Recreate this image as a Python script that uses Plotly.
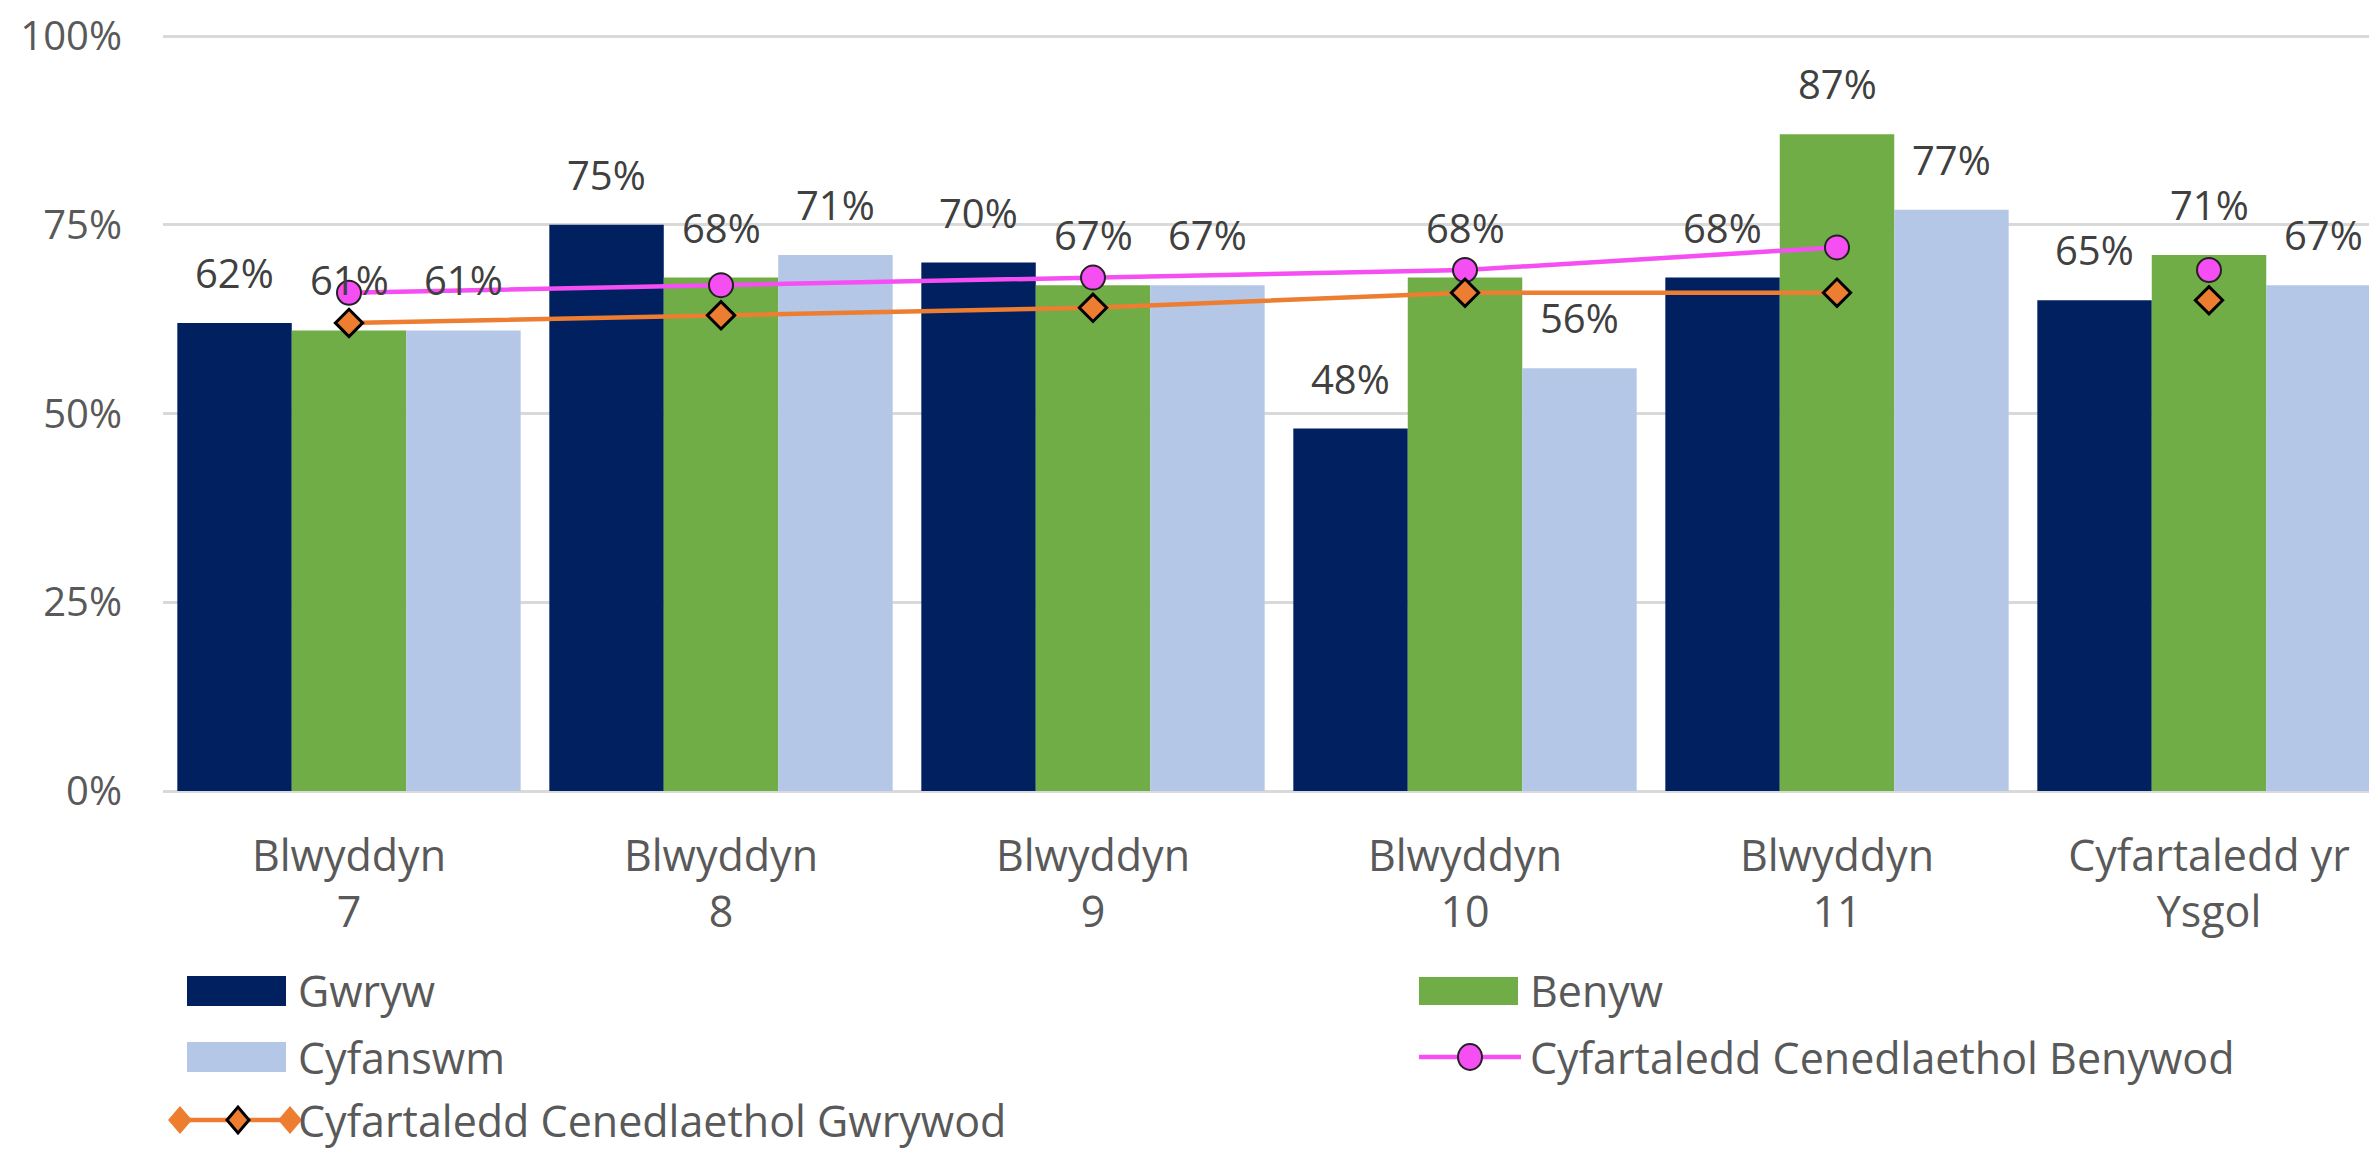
import plotly.graph_objects as go

categories = ["Blwyddyn<br>7", "Blwyddyn<br>8", "Blwyddyn<br>9", "Blwyddyn<br>10",
              "Blwyddyn<br>11", "Cyfartaledd yr<br>Ysgol"]
gwryw = [62, 75, 70, 48, 68, 65]
benyw = [61, 68, 67, 68, 87, 71]
cyfanswm = [61, 71, 67, 56, 77, 67]
nat_benywod = [66, 67, 68, 69, 72, 69]
nat_gwrywod = [62, 63, 64, 66, 66, 65]
y_ticks = [0, 25, 50, 75, 100]
y_ticklabels = ["0%", "25%", "50%", "75%", "100%"]

C_DARK = "#002060"
C_GREEN = "#70AD47"
C_LIGHT = "#B4C7E7"
C_PINK = "#F54EF2"
C_ORANGE = "#ED7D31"
TXT = "#595959"
FONT = "Open Sans"
FS_WORD = 43
FS_NUM = 40

O = 8  # page body margin
UNIT = 755.0  # pixels for 0%..100%
W, H = 2377 - O, 1149 - O
L, R, T = 163 - O, 0, 26
PLOT_BOTTOM = 791 - O
B = H - PLOT_BOTTOM
PW, PH = W - L - R, H - T - B
Y_TOP = PH / UNIT
BARGAP = 0.077
BW = (1 - BARGAP) / 3

def px(x):
    return (x - O - L) / PW

def py(y):
    return (PLOT_BOTTOM - (y - O)) / PH

xs = list(range(len(categories)))
fig = go.Figure()
for name, vals, col in [("Gwryw", gwryw, C_DARK), ("Benyw", benyw, C_GREEN),
                        ("Cyfanswm", cyfanswm, C_LIGHT)]:
    fig.add_trace(go.Bar(name=name, x=xs, y=[v / 100 for v in vals],
                         marker=dict(color=col, line=dict(width=0)), showlegend=False))

n_line = 5
pink_marker = dict(symbol="circle", size=24, color=C_PINK, line=dict(color="#222222", width=2))
orange_marker = dict(symbol="diamond", size=21, color=C_ORANGE, line=dict(color="#000000", width=3))
fig.add_trace(go.Scatter(name="Cyfartaledd Cenedlaethol Benywod", x=xs[:n_line],
                         y=[v / 100 for v in nat_benywod[:n_line]], mode="lines+markers",
                         line=dict(color=C_PINK, width=4.5), marker=pink_marker,
                         showlegend=False))
fig.add_trace(go.Scatter(name="Cyfartaledd Cenedlaethol Gwrywod", x=xs[:n_line],
                         y=[v / 100 for v in nat_gwrywod[:n_line]], mode="lines+markers",
                         line=dict(color=C_ORANGE, width=4.5), marker=orange_marker,
                         showlegend=False))
fig.add_trace(go.Scatter(x=xs[n_line:], y=[v / 100 for v in nat_benywod[n_line:]], mode="markers",
                         marker=pink_marker, showlegend=False))
fig.add_trace(go.Scatter(x=xs[n_line:], y=[v / 100 for v in nat_gwrywod[n_line:]], mode="markers",
                         marker=orange_marker, showlegend=False))

annotations = []
for k, vals in enumerate([gwryw, benyw, cyfanswm]):
    for i, v in enumerate(vals):
        annotations.append(dict(x=i + (k - 1) * BW, y=v / 100, xref="x", yref="y",
                                text=f"{v}%", showarrow=False, yanchor="bottom",
                                yshift=21, font=dict(family=FONT, size=FS_NUM, color="#404040")))

shapes = []

def rect(x0, x1, y0, y1, col):
    shapes.append(dict(type="rect", xref="paper", yref="paper", x0=px(x0), x1=px(x1),
                       y0=py(y1), y1=py(y0), fillcolor=col, line=dict(width=0), layer="above"))

def diamond(cx, cy, rx, ry, fill, lc, lw):
    path = (f"M{px(cx - rx)},{py(cy)} L{px(cx)},{py(cy - ry)} L{px(cx + rx)},{py(cy)} "
            f"L{px(cx)},{py(cy + ry)} Z")
    shapes.append(dict(type="path", xref="paper", yref="paper", path=path, fillcolor=fill,
                       line=dict(color=lc, width=lw), layer="above"))

# legend (reference pixel coordinates)
ROW1, ROW2, ROW3 = 991, 1057, 1120
rect(187, 286, 976, 1006, C_DARK)
rect(1419, 1518, 977, 1005, C_GREEN)
rect(187, 286, 1042, 1072, C_LIGHT)
shapes.append(dict(type="line", xref="paper", yref="paper", x0=px(1419), x1=px(1521),
                   y0=py(ROW2), y1=py(ROW2), line=dict(color=C_PINK, width=4.5)))
shapes.append(dict(type="circle", xref="paper", yref="paper", x0=px(1458), x1=px(1482),
                   y0=py(ROW2 + 13), y1=py(ROW2 - 13), fillcolor=C_PINK,
                   line=dict(color="#222222", width=2)))
shapes.append(dict(type="line", xref="paper", yref="paper", x0=px(180), x1=px(290),
                   y0=py(ROW3), y1=py(ROW3), line=dict(color=C_ORANGE, width=4.5)))
diamond(180, ROW3, 12, 14, C_ORANGE, C_ORANGE, 0)
diamond(290, ROW3, 12, 14, C_ORANGE, C_ORANGE, 0)
diamond(238, ROW3, 11, 13, C_ORANGE, "#000000", 3)

for text, x, y in [("Gwryw", 296, ROW1), ("Benyw", 1528, ROW1), ("Cyfanswm", 296, ROW2),
                   ("Cyfartaledd Cenedlaethol Benywod", 1528, ROW2),
                   ("Cyfartaledd Cenedlaethol Gwrywod", 296, ROW3)]:
    annotations.append(dict(x=px(x), y=py(y), xref="paper", yref="paper", text=text,
                            showarrow=False, xanchor="left", yanchor="middle",
                            font=dict(family=FONT, size=FS_WORD, color=TXT)))

fig.update_layout(
    width=W, height=H,
    margin=dict(l=L, r=R, t=T, b=B, pad=0),
    paper_bgcolor="white", plot_bgcolor="white",
    barmode="group", bargap=BARGAP, bargroupgap=0,
    font=dict(family=FONT, size=FS_WORD, color=TXT),
    showlegend=False,
    xaxis=dict(range=[-0.5, -0.5 + PW / 372.0], tickmode="array", tickvals=xs,
               ticktext=categories, showgrid=False, zeroline=False, showline=False,
               ticks="", ticklabelstandoff=36, ticklabeloverflow="allow",
               tickfont=dict(family=FONT, size=FS_WORD, color=TXT)),
    yaxis=dict(range=[0, Y_TOP], tickmode="array", tickvals=[v / 100 for v in y_ticks],
               ticktext=y_ticklabels, showgrid=True, gridcolor="#D9D9D9", gridwidth=3,
               zeroline=True, zerolinecolor="#D9D9D9", zerolinewidth=3, showline=False,
               ticks="", ticklabelstandoff=40, ticklabeloverflow="allow",
               tickfont=dict(family=FONT, size=FS_NUM, color=TXT)),
    annotations=annotations,
    shapes=shapes,
)

fig.write_html("out.html")
